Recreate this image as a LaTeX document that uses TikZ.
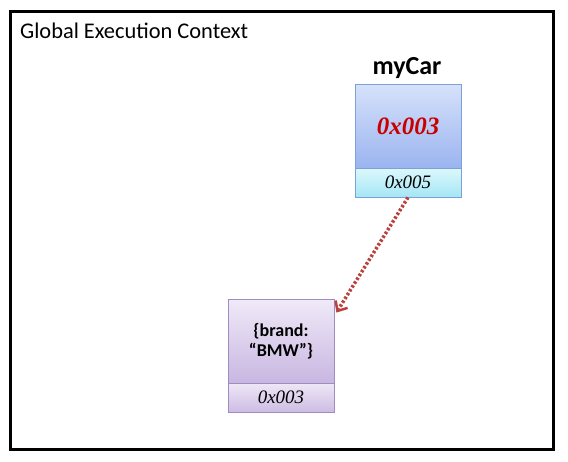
\documentclass[tikz,border=0pt]{standalone}
\usepackage{fontspec}
\setmainfont{Carlito}
\newfontfamily\timesfont{Liberation Serif}
\usetikzlibrary{arrows.meta,calc,shadows}
\definecolor{carborder}{RGB}{125,160,215}
\definecolor{cartop}{RGB}{214,226,250}
\definecolor{carbot}{RGB}{155,180,240}
\definecolor{addrtop}{RGB}{220,248,252}
\definecolor{addrbot}{RGB}{165,230,245}
\definecolor{objborder}{RGB}{160,140,195}
\definecolor{objtop}{RGB}{240,234,248}
\definecolor{objbot}{RGB}{200,182,225}
\definecolor{objaddrtop}{RGB}{238,232,246}
\definecolor{objaddrbot}{RGB}{205,188,228}
\definecolor{ptrred}{RGB}{185,65,62}
\definecolor{valred}{RGB}{200,0,0}
\tikzset{
  cell/.style={draw, line width=0.8pt, minimum width=106pt, inner sep=0pt,
    align=center, drop shadow={shadow xshift=1pt, shadow yshift=-1pt, opacity=0.25}},
  addr/.style={font=\timesfont\itshape\fontsize{19}{21}\selectfont}
}
\begin{document}
\begin{tikzpicture}[x=1pt,y=-1pt]
  \useasboundingbox (0,0) rectangle (568,461);
  \draw[line width=3pt] (10,11) rectangle (553,449);
  \node[anchor=base west, inner sep=0pt, font=\fontsize{22.4}{26}\selectfont] (title) at (20,38) {Global Execution Context};
  \node[font=\bfseries\fontsize{26}{30}\selectfont] (carname) at (407,68) {myCar};
  \node[cell, draw=carborder, top color=cartop, bottom color=carbot, minimum height=84pt,
    font=\timesfont\bfseries\itshape\fontsize{25}{28}\selectfont, text=valred]
    (carval) at (408,126) {0x003};
  \node[cell, draw=carborder, top color=addrtop, bottom color=addrbot, minimum height=29pt, addr]
    (caraddr) at (408,182.5) {0x005};
  \node[cell, draw=objborder, top color=objtop, bottom color=objbot, minimum height=84pt,
    font=\bfseries\fontsize{18}{20}\selectfont]
    (objval) at (281,341) {\{brand:\\``BMW''\}};
  \node[cell, draw=objborder, top color=objaddrtop, bottom color=objaddrbot, minimum height=29pt, addr]
    (objaddr) at (281,397.5) {0x003};
  \coordinate (objin) at ($(objval.north east)+(2,14)$);
  \draw[ptrred, line width=3.5pt, dash pattern=on 2.5pt off 2pt,
    -{Straight Barb[length=8pt,width=14pt,line width=2.5pt]}] (caraddr.south) -- (objin);
\end{tikzpicture}
\end{document}
